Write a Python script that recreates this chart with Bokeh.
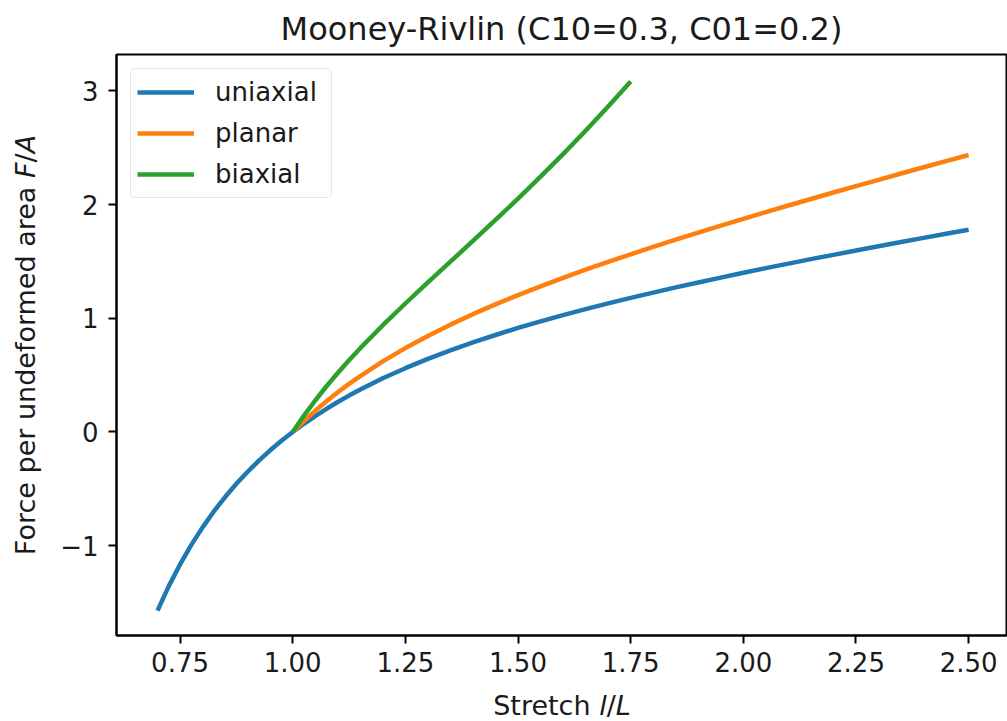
from bokeh.plotting import figure
from bokeh.models import Range1d, FixedTicker, NumeralTickFormatter, Legend, Div
from bokeh.layouts import row, column
from bokeh.embed import file_html
from bokeh.resources import INLINE

# ---- data ----
stretch_uni = [0.700, 0.725, 0.750, 0.775, 0.800, 0.825, 0.850, 0.875, 0.900, 0.925,
               0.950, 0.975, 1.000, 1.025, 1.050, 1.075, 1.100, 1.125, 1.15, 1.20, 1.25,
               1.30, 1.35, 1.40, 1.45, 1.50, 1.55, 1.60, 1.65, 1.70, 1.75, 1.80, 1.85,
               1.90, 1.95, 2.00, 2.05, 2.10, 2.15, 2.20, 2.25, 2.30, 2.35, 2.40, 2.45, 2.50]
force_uni = [-1.571, -1.356, -1.165, -0.993, -0.839, -0.699, -0.572, -0.456, -0.350, -0.252,
             -0.161, -0.078, 0.000, 0.072, 0.140, 0.204, 0.264, 0.320, 0.373,
             0.472, 0.561, 0.643, 0.718, 0.788, 0.853, 0.915, 0.973, 1.028, 1.081,
             1.131, 1.179, 1.226, 1.272, 1.315, 1.358, 1.400, 1.441, 1.481, 1.520,
             1.558, 1.596, 1.634, 1.671, 1.707, 1.743, 1.778]

stretch_pla = [1.000, 1.025, 1.050, 1.075, 1.100, 1.125, 1.15, 1.20, 1.25, 1.30, 1.35,
               1.40, 1.45, 1.50, 1.55, 1.60, 1.65, 1.70, 1.75, 1.80, 1.85, 1.90, 1.95,
               2.00, 2.05, 2.10, 2.15, 2.20, 2.25, 2.30, 2.35, 2.40, 2.45, 2.50]
force_pla = [0.000, 0.096, 0.186, 0.270, 0.349, 0.423, 0.492, 0.621, 0.738, 0.845, 0.944,
             1.036, 1.122, 1.204, 1.281, 1.356, 1.427, 1.496, 1.563, 1.629, 1.692, 1.754,
             1.815, 1.875, 1.934, 1.992, 2.049, 2.106, 2.162, 2.218, 2.273, 2.328, 2.382,
             2.436]

stretch_bi = [1.000, 1.025, 1.050, 1.075, 1.100, 1.125, 1.15, 1.20, 1.25, 1.30, 1.35,
              1.40, 1.45, 1.50, 1.55, 1.60, 1.65, 1.70, 1.75]
force_bi = [0.000, 0.144, 0.277, 0.402, 0.519, 0.631, 0.737, 0.939, 1.130, 1.315, 1.498,
            1.680, 1.865, 2.052, 2.245, 2.444, 2.649, 2.862, 3.083]

series_names = ["uniaxial", "planar", "biaxial"]
series_colors = ["#1f77b4", "#ff7f0e", "#2ca02c"]
x_ticks = [0.75, 1.00, 1.25, 1.50, 1.75, 2.00, 2.25, 2.50]
y_ticks = [-1, 0, 1, 2, 3]
y_tick_labels = ["\u22121", "0", "1", "2", "3"]
title_text = "Mooney-Rivlin (C10=0.3, C01=0.2)"
x_label_html = "Stretch <i>l</i>/<i>L</i>"
y_label_html = "Force per undeformed area <i>F</i>/<i>A</i>"

FONT = "DejaVu Sans"
FS = "26px"
X0, X1, Y0, Y1 = 0.609, 2.584, -1.79, 3.32
FW, FH = 890, 581
YLAB_W = 50
FIG_H = 687
XLAB_H = 34

p = figure(frame_width=FW, frame_height=FH, output_backend="svg", toolbar_location=None,
           x_range=Range1d(X0, X1), y_range=Range1d(Y0, Y1),
           min_border_left=116 - YLAB_W, min_border_right=1, min_border_top=54,
           min_border_bottom=FIG_H - 54 - FH, margin=0)
p.background_fill_color = "white"
p.border_fill_color = "white"
p.xgrid.visible = False
p.ygrid.visible = False
p.outline_line_color = "black"
p.outline_line_width = 2

p.title.text = title_text
p.title.text_font = FONT
p.title.text_font_size = "32px"
p.title.text_font_style = "normal"
p.title.align = "center"
p.title.text_color = "#1a1a1a"
p.title.standoff = 13

for ax in (p.xaxis[0], p.yaxis[0]):
    ax.axis_line_width = 2
    ax.axis_line_color = "black"
    ax.major_tick_line_width = 2
    ax.major_tick_line_color = "black"
    ax.major_tick_out = 8
    ax.major_tick_in = 0
    ax.minor_tick_out = 0
    ax.minor_tick_in = 0
    ax.major_label_text_font = FONT
    ax.major_label_text_font_size = FS
    ax.major_label_text_color = "#1a1a1a"

p.xaxis.ticker = FixedTicker(ticks=x_ticks)
p.xaxis.formatter = NumeralTickFormatter(format="0.00")
p.xaxis.major_label_standoff = 8
p.yaxis.ticker = FixedTicker(ticks=y_ticks)
p.yaxis.major_label_overrides = {t: s for t, s in zip(y_ticks, y_tick_labels)}
p.yaxis.major_label_standoff = 10

renderers = []
for xs, ys, name, col in zip([stretch_uni, stretch_pla, stretch_bi],
                             [force_uni, force_pla, force_bi],
                             series_names, series_colors):
    r = p.line(xs, ys, line_color=col, line_width=4.5, line_join="round", line_cap="butt")
    renderers.append((name, [r]))

legend = Legend(items=renderers, location="top_left", margin=14, padding=6,
                spacing=7, glyph_width=57, glyph_height=34, label_standoff=21,
                label_width=110, label_text_font=FONT, label_text_font_size=FS,
                label_text_color="#1a1a1a", border_line_color="#d0d0d0",
                border_line_width=1.5, background_fill_alpha=0.8)
try:
    legend.border_radius = 5
except Exception:
    pass
p.add_layout(legend, "center")

TXT = ("white-space:nowrap;font-family:'DejaVu Sans';font-size:27px;"
       "color:#1a1a1a;line-height:1;")
fig_w = (116 - YLAB_W) + FW + 1

ylab = Div(text=(f'<div style="position:relative;width:{YLAB_W}px;height:{FIG_H + XLAB_H}px;">'
                 f'<div style="position:absolute;left:25px;top:345px;'
                 f'transform:translate(-50%,-50%) rotate(-90deg);{TXT}">{y_label_html}</div></div>'),
           width=YLAB_W, height=FIG_H + XLAB_H, margin=0)
xlab = Div(text=(f'<div style="position:relative;width:{fig_w}px;height:{XLAB_H}px;">'
                 f'<div style="position:absolute;left:{562 - YLAB_W}px;top:18px;'
                 f'transform:translate(-50%,-50%);{TXT}">{x_label_html}</div></div>'),
           width=fig_w, height=XLAB_H, margin=0)

layout = row(ylab, column(p, xlab, spacing=0, margin=0), spacing=0, margin=0)

open("out.html", "w").write(file_html(layout, INLINE))
